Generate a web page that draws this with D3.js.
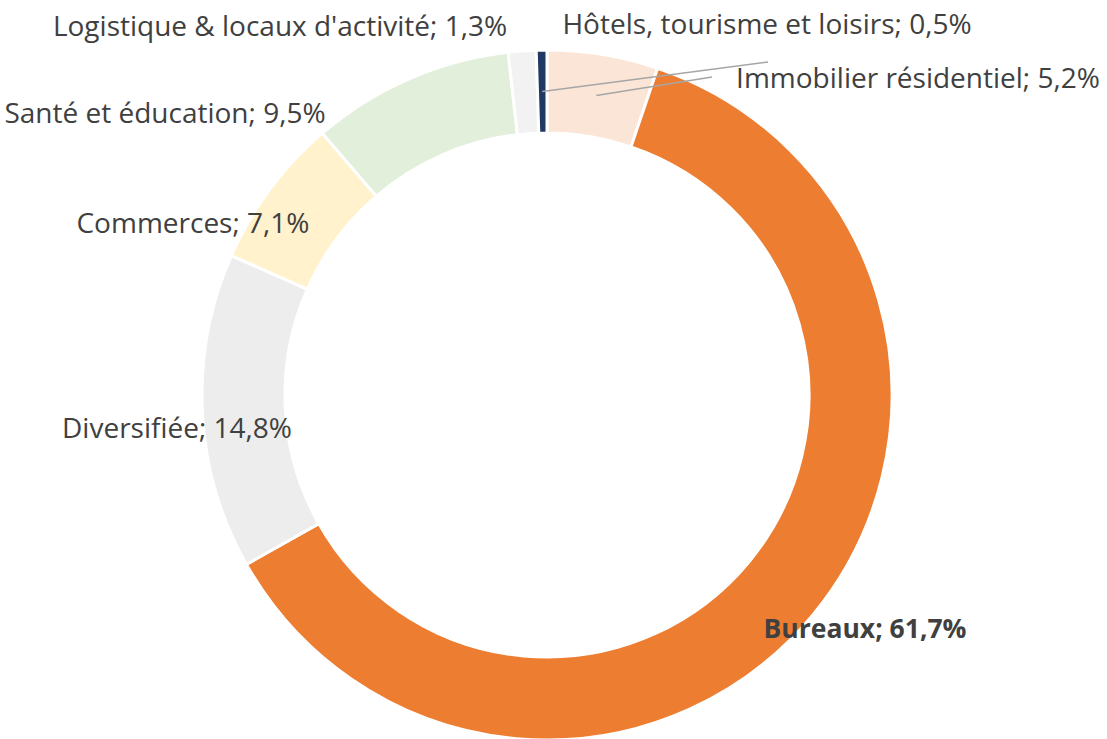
<!DOCTYPE html>
<html>
<head>
<meta charset="utf-8">
<script src="https://cdn.jsdelivr.net/npm/d3@7"></script>
<style>
  html, body { margin: 0; padding: 0; background: #fff; }
  svg { display: block; }
  .lbl { font-family: "Open Sans", "Noto Sans", sans-serif; font-size: 28px; fill: #404040; }
  .lbl.bold { font-size: 26.5px; font-weight: bold; }
</style>
</head>
<body>
<svg id="chart" width="1107" height="739"></svg>
<script>
// data, in drawing order (clockwise from 12 o'clock)
const categories = ["Immobilier résidentiel", "Bureaux", "Diversifiée", "Commerces", "Santé et éducation", "Logistique & locaux d'activité", "Hôtels, tourisme et loisirs"];
const shares = [5.2, 61.7, 14.8, 7.1, 9.5, 1.3, 0.5];
const valueLabels = ["5,2%", "61,7%", "14,8%", "7,1%", "9,5%", "1,3%", "0,5%"];
const colors = ["#FBE5D6", "#ED7D31", "#EDEDED", "#FFF2CC", "#E2EFDA", "#F2F2F2", "#203864"];

// label layout (centre x, baseline y), bold flag, leader line end
const labelPos = [
    { x: 918, y: 88, bold: false, leader: [712, 77] },
    { x: 865, y: 638, bold: true },
    { x: 177, y: 438, bold: false },
    { x: 193, y: 233, bold: false },
    { x: 165, y: 123, bold: false },
    { x: 280, y: 36, bold: false },
    { x: 767, y: 34, bold: false, leader: [768, 62] }
];

const svg = d3.select("#chart");
const cx = 547, cy = 395, rOuter = 345, rInner = 262;

const data = categories.map((c, i) => ({ name: c, value: shares[i], text: valueLabels[i], color: colors[i], pos: labelPos[i] }));

const pie = d3.pie().sort(null).value(d => d.value);
const arc = d3.arc().innerRadius(rInner).outerRadius(rOuter);
const arcs = pie(data);

const g = svg.append("g").attr("transform", `translate(${cx},${cy})`);

g.selectAll("path.slice")
    .data(arcs)
    .join("path")
    .attr("class", "slice")
    .attr("d", arc)
    .attr("fill", d => d.data.color)
    .attr("stroke", "#fff")
    .attr("stroke-width", 3);

// leader lines from slice centroid to label
arcs.filter(d => d.data.pos.leader).forEach(d => {
    const c = arc.centroid(d);
    svg.append("line")
        .attr("x1", cx + c[0]).attr("y1", cy + c[1])
        .attr("x2", d.data.pos.leader[0]).attr("y2", d.data.pos.leader[1])
        .attr("stroke", "#A6A6A6")
        .attr("stroke-width", 1.5);
});

svg.selectAll("text.lbl")
    .data(data)
    .join("text")
    .attr("class", d => d.pos.bold ? "lbl bold" : "lbl")
    .attr("x", d => d.pos.x)
    .attr("y", d => d.pos.y)
    .attr("text-anchor", "middle")
    .text(d => `${d.name}; ${d.text}`);
</script>
</body>
</html>
